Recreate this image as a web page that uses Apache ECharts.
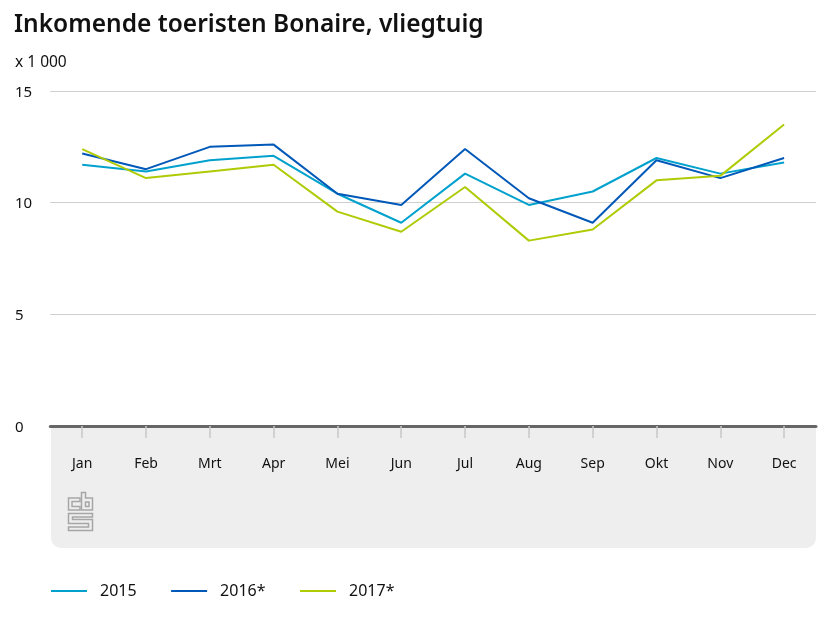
<!DOCTYPE html>
<html><head><meta charset="utf-8">
<script src="https://cdn.jsdelivr.net/npm/echarts@6/dist/echarts.min.js"></script>
<style>html,body{margin:0;padding:0;background:#fff}#c{width:830px;height:623px}</style></head>
<body><div id="c"></div>
<script>
const categories=['Jan','Feb','Mrt','Apr','Mei','Jun','Jul','Aug','Sep','Okt','Nov','Dec'];
const s2015=[11.7,11.4,11.9,12.1,10.4,9.1,11.3,9.9,10.5,12.0,11.3,11.8];
const s2016=[12.2,11.5,12.5,12.6,10.4,9.9,12.4,10.2,9.1,11.9,11.1,12.0];
const s2017=[12.4,11.1,11.4,11.7,9.6,8.7,10.7,8.3,8.8,11.0,11.2,13.5];
const names=['2015','2016*','2017*'];
const colors=['#00a1cd','#0058b8','#afcb05'];
const FONT='"Noto Sans","Open Sans",sans-serif';
const logoShapes=[
 [[68.5,498],[80,498],[80,501.5],[72,501.5],[72,506.5],[80,506.5],[80,510],[68.5,510]],
 [[81.5,492.5],[85.5,492.5],[85.5,498],[92.5,498],[92.5,510],[81.5,510]],
 [[85.5,502],[89,502],[89,506.5],[85.5,506.5]],
 [[68.5,513.5],[92.5,513.5],[92.5,517],[72.5,517],[72.5,519.5],[92.5,519.5],[92.5,530.5],[68.5,530.5],[68.5,527],[88.5,527],[88.5,523.5],[68.5,523.5]]
];
const chart=echarts.init(document.getElementById('c'),null,{renderer:'canvas'});
chart.setOption({
 animation:false,
 color:colors,
 textStyle:{fontFamily:FONT},
 title:[
  {text:'Inkomende toeristen Bonaire, vliegtuig',left:9,top:8,textStyle:{fontFamily:FONT,fontSize:24.5,fontWeight:600,color:'#111'}},
  {text:'x 1 000',left:10,top:50,textStyle:{fontFamily:FONT,fontSize:15.5,fontWeight:400,color:'#111'}}
 ],
 graphic:[
  {type:'rect',z:-10,shape:{x:51,y:426,width:765,height:122,r:[0,0,10,10]},style:{fill:'#eeeeee'}},
  ...logoShapes.map(p=>({type:'polygon',z:-5,shape:{points:p},style:{fill:'none',stroke:'#a6a6a6',lineWidth:1.5}}))
 ],
 legend:{left:46,top:578,itemWidth:36,itemHeight:2,itemGap:34.5,icon:'rect',
  data:names,textStyle:{fontFamily:FONT,fontSize:16,color:'#111',padding:[0,0,0,8]}},
 grid:{left:50.3,right:14,top:91,height:335},
 xAxis:{type:'category',data:categories,boundaryGap:true,
  axisLine:{lineStyle:{color:'#666666',width:3}},
  axisTick:{show:true,alignWithLabel:true,length:12,lineStyle:{color:'#c8c8c8',width:1.5}},
  axisLabel:{margin:31,fontSize:14,color:'#111',fontFamily:FONT}},
 yAxis:{type:'value',min:0,max:15,interval:5,
  axisLine:{show:false},axisTick:{show:false},
  splitLine:{lineStyle:{color:'#cfcfcf',width:1}},
  axisLabel:{align:'left',margin:35.3,fontSize:15,color:'#111',fontFamily:FONT,verticalAlign:'top',lineHeight:3}},
 series:[s2015,s2016,s2017].map((d,i)=>({name:names[i],type:'line',data:d,symbol:'none',smooth:false,
  lineStyle:{width:2,color:colors[i]},z:2+i}))
});
</script></body></html>
